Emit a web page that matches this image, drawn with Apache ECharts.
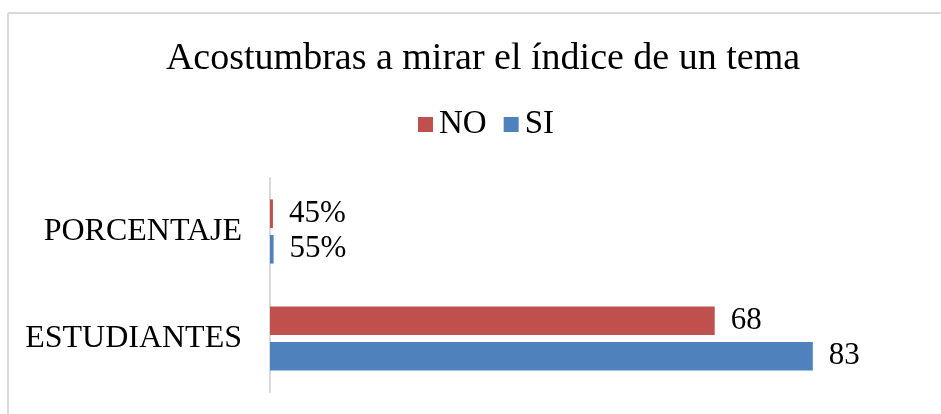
<!DOCTYPE html>
<html>
<head>
<meta charset="utf-8">
<script src="https://cdn.jsdelivr.net/npm/echarts@6/dist/echarts.min.js"></script>
<style>
  html, body { margin: 0; padding: 0; background: #fff; }
  #chart { width: 941px; height: 414px; }
</style>
</head>
<body>
<div id="chart"></div>
<script>
const categories = ['ESTUDIANTES', 'PORCENTAJE'];
const noValues = [68, 0.45];
const siValues = [83, 0.55];
const noLabels = ['68', '45%'];
const siLabels = ['83', '55%'];

const font = '"Liberation Serif", "Times New Roman", serif';

const chart = echarts.init(document.getElementById('chart'));

function barLabel(labels) {
    return {
        show: true, position: 'right', distance: 16,
        fontFamily: font, fontSize: 31, color: '#000',
        formatter: p => labels[p.dataIndex]
    };
}

// chart frame: only the top and left edges fall inside the picture
chart.setOption({
    backgroundColor: '#fff',
    animation: false,
    graphic: [
        { type: 'line', silent: true, shape: { x1: 8, y1: 13, x2: 941, y2: 13 },
          style: { stroke: '#d9d9d9', lineWidth: 2 } },
        { type: 'line', silent: true, shape: { x1: 8, y1: 13, x2: 8, y2: 414 },
          style: { stroke: '#d9d9d9', lineWidth: 2 } }
    ],
    title: {
        text: 'Acostumbras a mirar el índice de un tema',
        left: 483, top: 40, textAlign: 'center', padding: 0,
        textStyle: { fontFamily: font, fontSize: 38, fontWeight: 'normal', color: '#000' }
    },
    legend: {
        data: ['NO', 'SI'],
        left: 418, top: 108, padding: 0,
        itemWidth: 15, itemHeight: 15, itemGap: 17,
        icon: 'rect',
        textStyle: { fontFamily: font, fontSize: 33, color: '#000', padding: [0, 0, 0, 1] }
    },
    grid: { left: 270, right: 17, top: 178, bottom: 22, containLabel: false },
    xAxis: {
        type: 'value', min: 0, max: 100, show: false,
        splitLine: { show: false }
    },
    yAxis: {
        type: 'category', data: categories,
        axisLine: { show: true, lineStyle: { color: '#d9d9d9', width: 2 } },
        axisTick: { show: false },
        axisLabel: { margin: 28, fontFamily: font, fontSize: 32, color: '#000' }
    },
    series: [
        {
            name: 'NO', type: 'bar', data: noValues,
            itemStyle: { color: '#c0504d' },
            barGap: '24%', barCategoryGap: '40%',
            label: barLabel(noLabels)
        },
        {
            name: 'SI', type: 'bar', data: siValues,
            itemStyle: { color: '#4f81bd' },
            barGap: '24%', barCategoryGap: '40%',
            label: barLabel(siLabels)
        }
    ]
});
</script>
</body>
</html>
